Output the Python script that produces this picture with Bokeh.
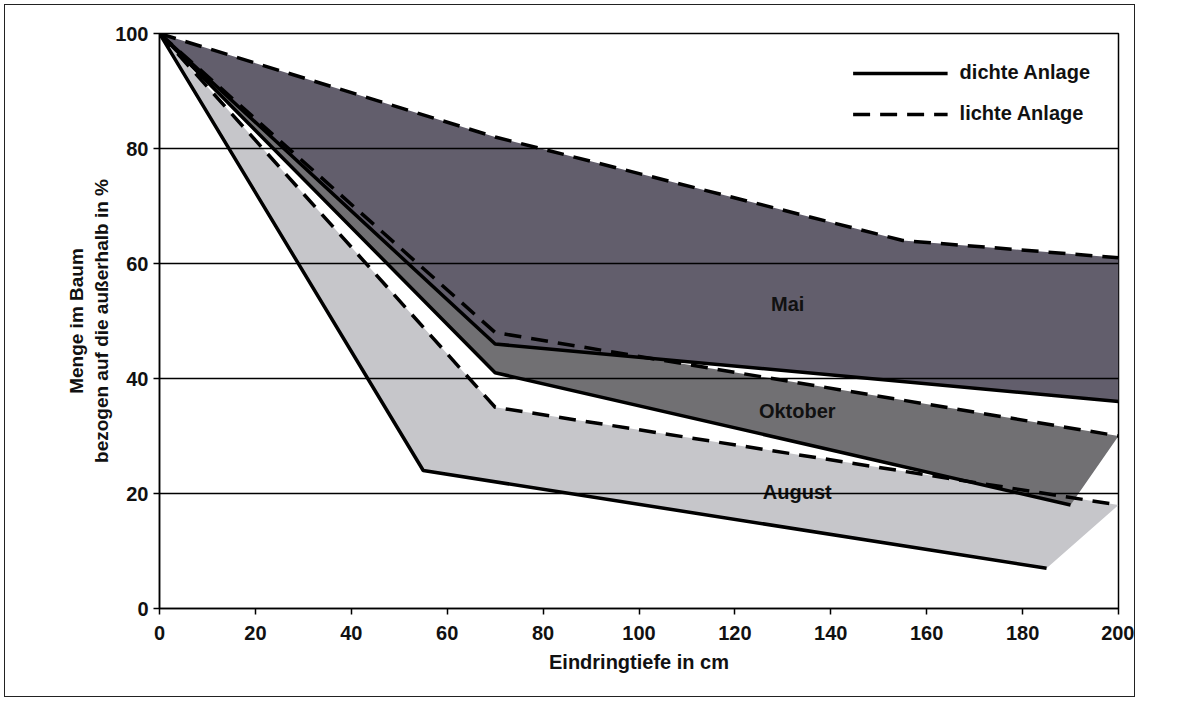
from bokeh.plotting import figure
from bokeh.models import Range1d, Legend, LegendItem, FixedTicker
from bokeh.core.properties import value
from bokeh.embed import file_html
from bokeh.resources import INLINE

# ---- data (Eindringtiefe in cm, Menge in %) ----
mai_dicht_x = [0, 70, 200]
mai_dicht_y = [100, 46, 36]
mai_licht_x = [0, 70, 155, 200]
mai_licht_y = [100, 82, 64, 61]

okt_dicht_x = [0, 70, 190]
okt_dicht_y = [100, 41, 18]
okt_licht_x = [0, 70, 200]
okt_licht_y = [100, 48, 30]

aug_dicht_x = [0, 55, 185]
aug_dicht_y = [100, 24, 7]
aug_licht_x = [0, 70, 200]
aug_licht_y = [100, 35, 18]

month_names = ["Mai", "Oktober", "August"]
month_label_x = [131, 133, 133]
month_label_y = [53, 34.4, 20.2]

x_ticks = [0, 20, 40, 60, 80, 100, 120, 140, 160, 180, 200]
y_ticks = [0, 20, 40, 60, 80, 100]

FONT = "Liberation Sans"

p = figure(width=1131, height=693, output_backend="svg", toolbar_location=None,
           x_range=Range1d(0, 200), y_range=Range1d(0, 100),
           min_border_left=154, min_border_right=18, min_border_top=28, min_border_bottom=90,
           background_fill_color="white", border_fill_color="white",
           styles={"border": "1.5px solid #222", "margin": "4px"})

p.outline_line_color = "black"
p.outline_line_width = 1.5

# fills (licht line forward, dicht line backward)
def band(lx, ly, dx, dy):
    return lx + dx[::-1], ly + dy[::-1]

ax, ay = band(aug_licht_x, aug_licht_y, aug_dicht_x, aug_dicht_y)
ox, oy = band(okt_licht_x, okt_licht_y, okt_dicht_x, okt_dicht_y)
mx, my = band(mai_licht_x, mai_licht_y, mai_dicht_x, mai_dicht_y)
p.patch(ax, ay, fill_color="#c6c6ca", line_color=None)
p.patch(ox, oy, fill_color="#717073", line_color=None)
p.patch(mx, my, fill_color="#625e6c", line_color=None)

LW = 3.5
DASH = "17 10"
r_aug_d = p.line(aug_dicht_x, aug_dicht_y, line_color="black", line_width=LW)
r_aug_l = p.line(aug_licht_x, aug_licht_y, line_color="black", line_width=LW, line_dash=DASH)
r_okt_d = p.line(okt_dicht_x, okt_dicht_y, line_color="black", line_width=LW)
r_okt_l = p.line(okt_licht_x, okt_licht_y, line_color="black", line_width=LW, line_dash=DASH)
r_mai_d = p.line(mai_dicht_x, mai_dicht_y, line_color="black", line_width=LW)
r_mai_l = p.line(mai_licht_x, mai_licht_y, line_color="black", line_width=LW, line_dash=DASH)

p.scatter([mai_dicht_x[0]], [mai_dicht_y[0]], marker="square", size=8, color="black")

p.text(month_label_x, month_label_y, text=month_names, text_font=value(FONT),
       text_font_style="bold", text_font_size="20px", text_color="#111111",
       text_align="center", text_baseline="middle")

# grid
p.xgrid.visible = False
p.ygrid.ticker = FixedTicker(ticks=y_ticks)
p.ygrid.grid_line_color = "black"
p.ygrid.grid_line_width = 1.5
p.ygrid.level = "guide"

# axes
for ax_ in (p.xaxis, p.yaxis):
    ax_.axis_line_color = "black"
    ax_.axis_line_width = 1.5
    ax_.major_tick_line_color = "black"
    ax_.major_tick_line_width = 1.5
    ax_.major_tick_out = 6
    ax_.major_tick_in = 0
    ax_.minor_tick_line_color = None
    ax_.major_label_text_font = FONT
    ax_.major_label_text_font_style = "bold"
    ax_.major_label_text_font_size = "20px"
    ax_.major_label_text_color = "#111111"
    ax_.axis_label_text_font = FONT
    ax_.axis_label_text_font_style = "bold"
    ax_.axis_label_text_color = "#111111"

p.xaxis.ticker = FixedTicker(ticks=x_ticks)
p.yaxis.ticker = FixedTicker(ticks=y_ticks)
p.xaxis.major_label_standoff = 11
p.yaxis.major_label_standoff = 5
p.xaxis.axis_label = "Eindringtiefe in cm"
p.xaxis.axis_label_text_font_size = "20px"
p.xaxis.axis_label_standoff = 8
p.yaxis.axis_label = "Menge im Baum\nbezogen auf die außerhalb in %"
p.yaxis.axis_label_text_font_size = "19px"
p.yaxis.axis_label_standoff = 0

legend = Legend(items=[LegendItem(label="dichte Anlage", renderers=[r_mai_d]),
                       LegendItem(label="lichte Anlage", renderers=[r_mai_l])],
                location="top_right")
legend.label_text_font = FONT
legend.label_text_font_style = "bold"
legend.label_text_font_size = "20px"
legend.label_text_color = "#111111"
legend.glyph_width = 95
legend.glyph_height = 22
legend.label_height = 22
legend.label_standoff = 12
legend.spacing = 18
legend.padding = 10
legend.margin = 18
legend.border_line_alpha = 0
legend.background_fill_alpha = 0
p.add_layout(legend)

open("out.html", "w").write(file_html(p, INLINE))
